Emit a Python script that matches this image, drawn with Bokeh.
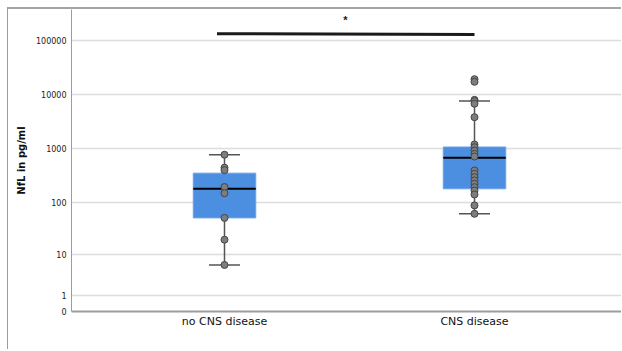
import numpy as np
from bokeh.plotting import figure
from bokeh.models import FixedTicker, Range1d
from bokeh.embed import file_html
from bokeh.resources import INLINE

# ---- data ----
categories = ["no CNS disease", "CNS disease"]
q1 = [52, 181]
median = [182, 676]
q3 = [352, 1070]
whisker_lo = [6.2, 62]
whisker_hi = [770, 7500]
points_no_cns = [770, 445, 400, 195, 150, 52, 20, 6.2]
points_cns = [19000, 17000, 7900, 7500, 6700, 3790, 1190, 1060, 920, 800, 714,
              395, 343, 297, 258, 224, 194, 168, 142, 89, 62]
y_ticks = [0, 1, 10, 100, 1000, 10000, 100000]
sig_label = "*"
sig_groups = [0.97, 2.0]
sig_values = [131000, 126000]
sig_star_value = 238000


def t(v):
    return np.log10(np.asarray(v, dtype=float) + 1.0)


xpos = np.arange(1, len(categories) + 1, dtype=float)

p = figure(width=614, height=342, output_backend="svg", toolbar_location=None,
           x_range=Range1d(0.388, 2.592), y_range=Range1d(0, 5.562),
           min_border_left=63, min_border_right=0, min_border_top=0,
           min_border_bottom=40)
p.styles = {"margin-left": "7px", "margin-top": "7px",
            "border-left": "1px solid #9c9c9c", "border-top": "2px solid #a4a4a4"}
p.outline_line_color = None
p.background_fill_color = "white"

# grid
p.xgrid.grid_line_color = None
p.ygrid.ticker = FixedTicker(ticks=list(t(y_ticks[1:])))
p.ygrid.grid_line_color = "#dcdcdc"
p.ygrid.grid_line_width = 1.5

# y axis
p.yaxis.ticker = FixedTicker(ticks=list(t(y_ticks)))
p.yaxis.major_label_overrides = {float(tv): str(v) for tv, v in zip(t(y_ticks), y_ticks)}
p.yaxis.major_tick_line_color = None
p.yaxis.minor_tick_line_color = None
p.yaxis.major_tick_out = 0
p.yaxis.major_tick_in = 0
p.yaxis.minor_tick_out = 0
p.yaxis.major_label_standoff = 5
p.yaxis.major_label_text_font = "DejaVu Sans"
p.yaxis.major_label_text_font_size = "8px"
p.yaxis.major_label_text_color = "#222222"
p.yaxis.axis_line_color = "#9c9c9c"
p.yaxis.axis_line_width = 1
p.yaxis.axis_label = "NfL in pg/ml"
p.yaxis.axis_label_text_font = "DejaVu Sans"
p.yaxis.axis_label_text_font_size = "10px"
p.yaxis.axis_label_text_font_style = "bold"
p.yaxis.axis_label_text_color = "#111111"
p.yaxis.axis_label_standoff = 6

# x axis
p.xaxis.ticker = FixedTicker(ticks=list(xpos))
p.xaxis.major_label_overrides = {float(x): c for x, c in zip(xpos, categories)}
p.xaxis.major_tick_line_color = None
p.xaxis.minor_tick_line_color = None
p.xaxis.major_tick_out = 0
p.xaxis.major_tick_in = 0
p.xaxis.minor_tick_out = 0
p.xaxis.major_label_standoff = 3
p.xaxis.major_label_text_font = "DejaVu Sans"
p.xaxis.major_label_text_font_size = "11px"
p.xaxis.major_label_text_color = "#111111"
p.xaxis.axis_line_color = "#9c9c9c"
p.xaxis.axis_line_width = 2

box_w = 0.25
cap_w = 0.124
whisk_color = "#555555"

# whiskers
p.segment(x0=xpos, y0=t(whisker_lo), x1=xpos, y1=t(whisker_hi),
          line_color=whisk_color, line_width=1.5)
p.segment(x0=xpos - cap_w / 2, y0=t(whisker_lo), x1=xpos + cap_w / 2, y1=t(whisker_lo),
          line_color=whisk_color, line_width=1.5)
p.segment(x0=xpos - cap_w / 2, y0=t(whisker_hi), x1=xpos + cap_w / 2, y1=t(whisker_hi),
          line_color=whisk_color, line_width=1.5)

# boxes
p.vbar(x=xpos, width=box_w, bottom=t(q1), top=t(q3),
       fill_color="#4c8fe0", line_color="#6aa2e6", line_width=1)
# medians
p.segment(x0=xpos - box_w / 2, y0=t(median), x1=xpos + box_w / 2, y1=t(median),
          line_color="#000000", line_width=2)

# individual points
for x, pts in zip(xpos, [points_no_cns, points_cns]):
    p.scatter(x=[x] * len(pts), y=t(pts), size=7, marker="circle",
              fill_color="#7d7d7d", line_color="#454545", line_width=1)

# significance bar
p.line(x=sig_groups, y=t(sig_values), line_color="#1a1a1a", line_width=3)
p.text(x=[float(np.mean(sig_groups)) - 0.001], y=t([sig_star_value]), text=[sig_label],
       text_align="center", text_baseline="middle", text_font_size="11px",
       text_font_style="bold", text_color="#222222")

open("out.html", "w").write(file_html(p, INLINE))
